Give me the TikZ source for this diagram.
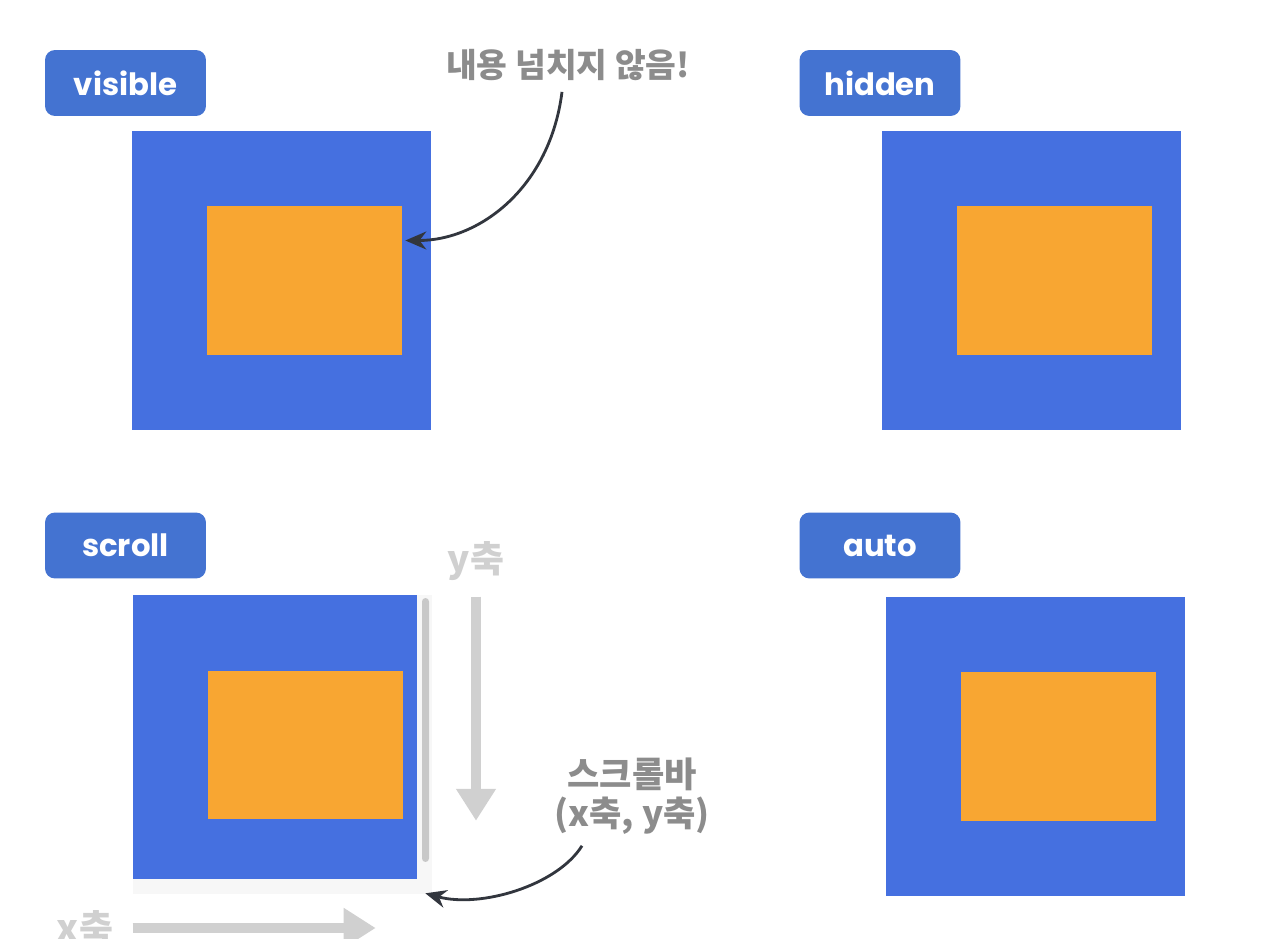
\documentclass[tikz,border=0pt]{standalone}
\usepackage{fontspec}
\newfontfamily\tagfont{Poppins}
\newfontfamily\kr{Noto Sans CJK KR}
\usetikzlibrary{arrows.meta,positioning}

\definecolor{tagblue}{RGB}{68,115,209}
\definecolor{boxblue}{RGB}{69,112,224}
\definecolor{boxorange}{RGB}{248,166,50}
\definecolor{notegray}{RGB}{140,140,140}
\definecolor{axisgray}{RGB}{208,208,208}
\definecolor{trackgray}{RGB}{247,247,247}
\definecolor{thumbgray}{RGB}{200,200,200}
\definecolor{pointer}{RGB}{50,54,62}

\tikzset{
  tag/.style={fill=tagblue, rounded corners=0.2cm, text=white, inner sep=0pt,
    minimum width=3.22cm, minimum height=1.32cm,
    font=\tagfont\bfseries\fontsize{17.5}{20}\selectfont},
  outerbox/.style={fill=boxblue, inner sep=0pt, minimum size=5.98cm},
  innerbox/.style={fill=boxorange, inner sep=0pt, minimum width=3.9cm, minimum height=2.98cm},
  note/.style={text=notegray, align=center, font=\kr\bfseries\fontsize{19}{23}\selectfont},
  axislabel/.style={text=axisgray, font=\kr\bfseries\fontsize{21}{24}\selectfont},
  pointer/.style={draw=pointer, line width=1.6pt, -{Stealth[length=0.42cm,width=0.36cm]}},
  axisarrow/.style={draw=axisgray, line width=0.2cm, -{Triangle[length=0.64cm,width=0.76cm]}}
}

\begin{document}
\begin{tikzpicture}[x=0.02cm, y=-0.02cm]
  \clip (0,0) rectangle (1269,939);
  \fill[white] (0,0) rectangle (1269,939);

  % labels
  \node[tag] (tvisible) at (125.5,83) {visible};
  \node[tag] (thidden) at (880,83) {hidden};
  \node[tag] (tscroll) at (125.5,545.5) {scroll};
  \node[tag] (tauto) at (880,545.5) {auto};

  % visible
  \node[outerbox] (visout) at (281.5,280.5) {};
  \node[innerbox] (visin) at (304.5,280.5) {};

  % hidden
  \node[outerbox] (hidout) at (1031.5,280.5) {};
  \node[innerbox] (hidin) at (1054.5,280.5) {};

  % scroll: track, box, thumb
  \node[fill=trackgray, inner sep=0pt, minimum size=5.98cm] (track) at (282.5,744.5) {};
  \node[fill=boxblue, inner sep=0pt, minimum size=5.68cm] (scrout) at (275,737) {};
  \node[innerbox] (scrin) at (305.5,745) {};
  \node[fill=thumbgray, rounded corners=0.07cm, inner sep=0pt,
    minimum width=0.14cm, minimum height=5.28cm] (thumb) at (425.5,730) {};
  \coordinate (corner) at (track.south east);

  % auto
  \node[outerbox] (autout) at (1035.5,746.5) {};
  \node[innerbox] (autin) at (1058.5,746.5) {};

  % notes
  \node[note] (overflow) at (568,65) {내용 넘치지 않음!};
  \draw[pointer] ([xshift=-0.12cm,yshift=-0.1cm]overflow.south) .. controls +(-12,95) and +(75,0) .. ([xshift=0.06cm,yshift=0.8cm]visin.east);

  \node[note, font=\kr\bfseries\fontsize{20}{22.5}\selectfont] (bars) at (632,796) {스크롤바\\(x축, y축)};
  \draw[pointer] ([xshift=-1.0cm,yshift=-0.1cm]bars.south) .. controls +(-25,40) and +(55,15) .. ([xshift=-0.14cm,yshift=0.02cm]corner);

  % axes
  \node[axislabel] (ylab) at (476,561) {y축};
  \draw[axisarrow] ([yshift=-0.2cm]ylab.south) -- ++(0,224);
  \node[axislabel] (xlab) at (85,928) {x축};
  \draw[axisarrow] (track.south west |- xlab) -- ++(243,0);
\end{tikzpicture}
\end{document}
